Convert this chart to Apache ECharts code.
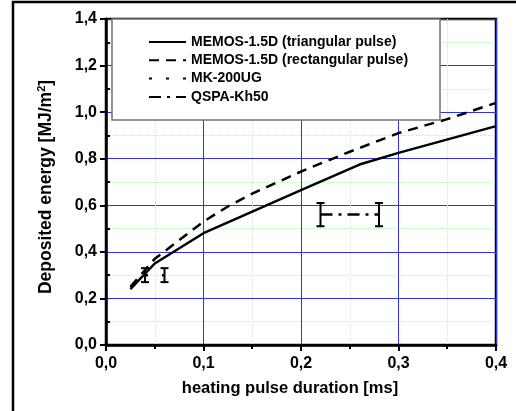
<!DOCTYPE html>
<html><head><meta charset="utf-8">
<script src="https://cdn.jsdelivr.net/npm/echarts@6/dist/echarts.min.js"></script>
<style>html,body{margin:0;padding:0;background:#fff}#c{width:516px;height:411px}</style>
</head><body><div id="c"></div>
<script>
const triX = [0.025, 0.05, 0.1, 0.2, 0.26, 0.3, 0.4];
const triY = [0.24, 0.35, 0.48, 0.665, 0.775, 0.825, 0.94];
const rectX = [0.025, 0.05, 0.1, 0.125, 0.15, 0.2, 0.25, 0.3, 0.35, 0.4];
const rectY = [0.25, 0.37, 0.53, 0.595, 0.65, 0.745, 0.83, 0.91, 0.97, 1.04];
const mkX = [0.04, 0.06];
const mkY = [0.30, 0.30];
const mkErr = [0.03, 0.03];
const qsX = [0.22, 0.28];
const qsY = [0.56, 0.56];
const qsErr = [0.05, 0.05];
const seriesNames = ['MEMOS-1.5D (triangular pulse)', 'MEMOS-1.5D (rectangular pulse)', 'MK-200UG', 'QSPA-Kh50'];
const xName = 'heating pulse duration [ms]';
const yNameParts = ['Deposited energy [MJ/m', '2', ']'];

const FONT = 'Arial, "Liberation Sans", sans-serif';
const zip = (xs, ys) => xs.map((x, i) => [x, ys[i]]);
const zip3 = (xs, ys, es) => xs.map((x, i) => [x, ys[i], es[i]]);
const fmt = v => v.toFixed(1).replace('.', ',');

function errRender(params, api) {
  const x = api.value(0), y = api.value(1), e = api.value(2);
  const t = api.coord([x, y + e]);
  const b = api.coord([x, y - e]);
  const hw = 4;
  const st = { stroke: '#000', lineWidth: 2 };
  return { type: 'group', children: [
    { type: 'line', shape: { x1: t[0], y1: t[1], x2: b[0], y2: b[1] }, style: st },
    { type: 'line', shape: { x1: t[0] - hw, y1: t[1], x2: t[0] + hw, y2: t[1] }, style: st },
    { type: 'line', shape: { x1: b[0] - hw, y1: b[1], x2: b[0] + hw, y2: b[1] }, style: st }
  ]};
}

const chart = echarts.init(document.getElementById('c'), null, { renderer: 'canvas' });
chart.setOption({
  animation: false,
  backgroundColor: '#fff',
  textStyle: { fontFamily: FONT },
  grid: { left: 106, right: 20, top: 19, bottom: 66, show: true, borderColor: '#000', borderWidth: 2.5, backgroundColor: 'transparent' },
  xAxis: {
    type: 'value', min: 0, max: 0.4, interval: 0.1,
    axisLine: { lineStyle: { color: '#000', width: 2.5 } },
    axisTick: { show: true, length: 6, lineStyle: { color: '#000', width: 2 } },
    minorTick: { show: true, splitNumber: 2, length: 4, lineStyle: { color: '#000', width: 2 } },
    axisLabel: { formatter: fmt, color: '#000', fontWeight: 'bold', fontSize: 16, fontFamily: FONT, margin: 11 },
    splitLine: { show: true, lineStyle: { color: '#3030f0', width: 1 } },
    minorSplitLine: { show: true, lineStyle: { color: '#bff0bf', width: 1, type: 'dotted' } }
  },
  yAxis: {
    type: 'value', min: 0, max: 1.4, interval: 0.2,
    axisLine: { lineStyle: { color: '#000', width: 2.5 } },
    axisTick: { show: true, length: 6, lineStyle: { color: '#000', width: 2 } },
    minorTick: { show: true, splitNumber: 2, length: -4, lineStyle: { color: '#000', width: 2 } },
    axisLabel: { formatter: fmt, color: '#000', fontWeight: 'bold', fontSize: 16, fontFamily: FONT, margin: 9 },
    splitLine: { show: true, lineStyle: { color: '#3030f0', width: 1 } },
    minorSplitLine: { show: true, lineStyle: { color: '#bff0bf', width: 1, type: 'dotted' } }
  },
  legend: {
    data: seriesNames,
    orient: 'vertical', left: 148, top: 35, padding: 0, itemGap: 4.3,
    itemWidth: 37, itemHeight: 14, z: 10,
    itemStyle: { opacity: 0 },
    textStyle: { color: '#000', fontWeight: 'bold', fontSize: 14, fontFamily: FONT }
  },
  graphic: [
    { type: 'rect', z: 5, shape: { x: 112, y: 19, width: 328, height: 101 }, style: { fill: '#fff', stroke: '#707070', lineWidth: 1.5 } },
    { type: 'rect', z: 5, shape: { x: 13, y: 2, width: 800, height: 800 }, style: { fill: 'none', stroke: '#000', lineWidth: 2.5 } },
    { type: 'text', z: 5, x: 46, y: 187, rotation: Math.PI / 2,
      style: { text: '{a|' + yNameParts[0] + '}{s|' + yNameParts[1] + '}{a|' + yNameParts[2] + '}', align: 'center', verticalAlign: 'middle',
        rich: { a: { fontSize: 17.5, fontWeight: 'bold', fontFamily: FONT, fill: '#000' }, s: { fontSize: 11, fontWeight: 'bold', fontFamily: FONT, fill: '#000', verticalAlign: 'top', padding: [0, 0, 8, 0] } } } },
    { type: 'text', z: 5, x: 290, y: 388, style: { text: xName, align: 'center', verticalAlign: 'middle', font: 'bold 16.5px ' + FONT, fill: '#000' } }
  ],
  series: [
    { name: seriesNames[0], type: 'line', data: zip(triX, triY), symbol: 'none', lineStyle: { color: '#000', width: 2.5, type: 'solid' }, itemStyle: { color: '#000' }, z: 3 },
    { name: seriesNames[1], type: 'line', data: zip(rectX, rectY), symbol: 'none', lineStyle: { color: '#000', width: 2.5, type: [10, 7] }, itemStyle: { color: '#000' }, z: 3 },
    { name: seriesNames[2], type: 'line', data: zip(mkX, mkY), symbol: 'none', lineStyle: { color: '#000', width: 2.5, type: [3, 14] }, itemStyle: { color: '#000' }, z: 3 },
    { name: seriesNames[3], type: 'line', data: zip(qsX, qsY), symbol: 'none', lineStyle: { color: '#000', width: 2.5, type: [12, 6, 3, 6] }, itemStyle: { color: '#000' }, z: 3 },
    { name: 'mkErr', type: 'custom', renderItem: errRender, data: zip3(mkX, mkY, mkErr), z: 3 },
    { name: 'qsErr', type: 'custom', renderItem: errRender, data: zip3(qsX, qsY, qsErr), z: 3 }
  ]
});
</script></body></html>
